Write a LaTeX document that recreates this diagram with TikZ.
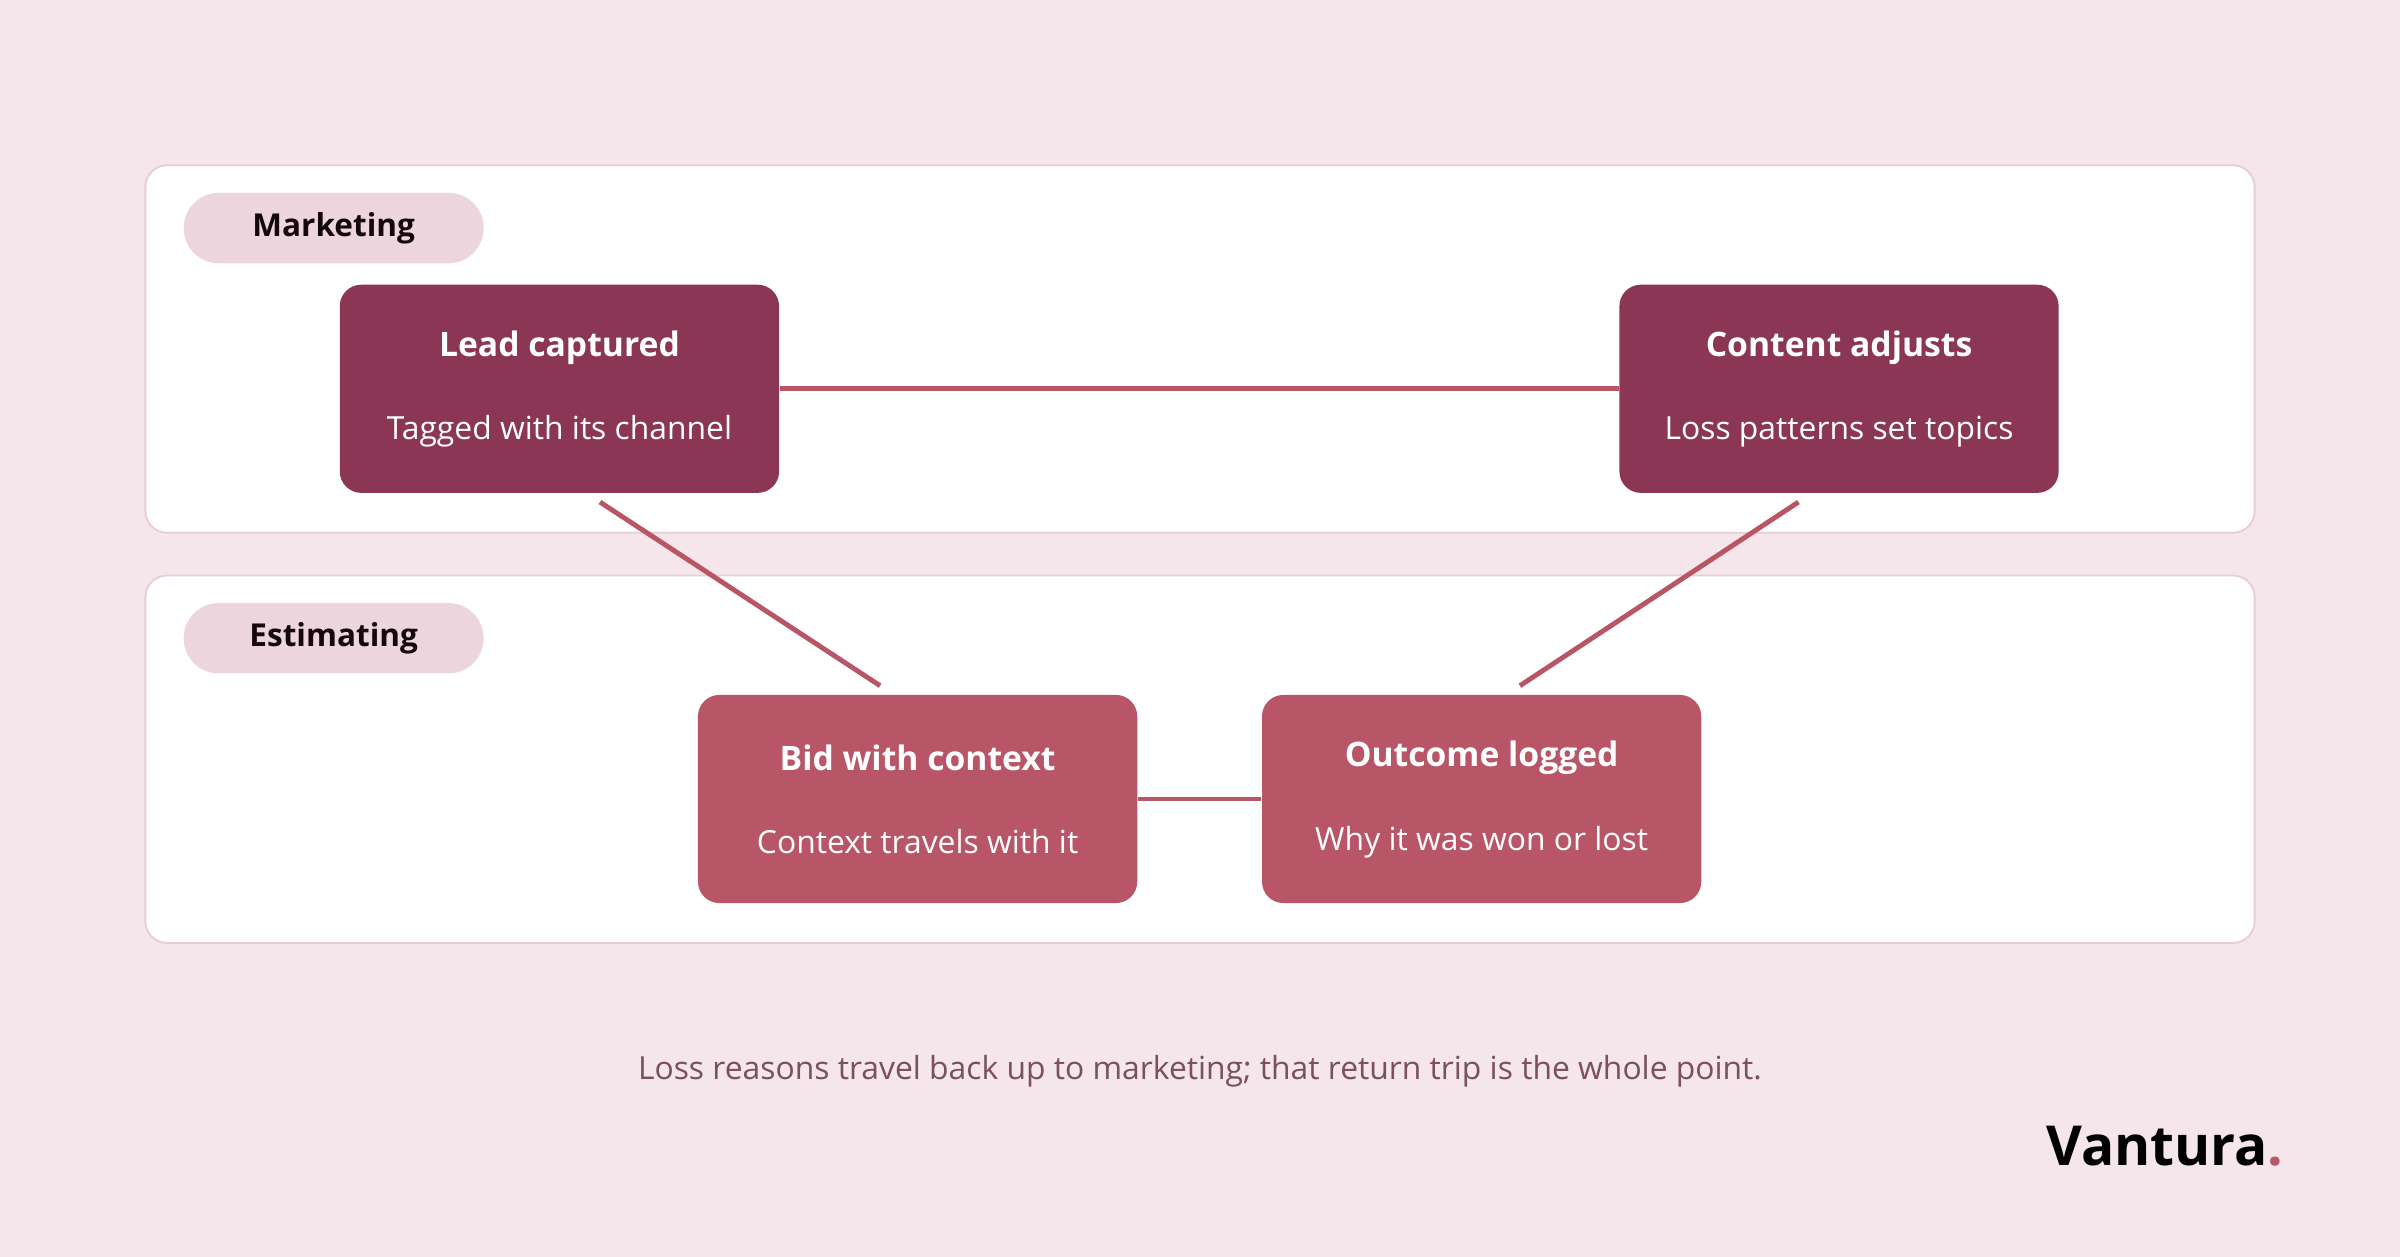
\documentclass[tikz,border=0pt]{standalone}
\usepackage{fontspec}
\setmainfont{Open Sans}
\begin{document}
\definecolor{bg}{HTML}{F4E6EA}
\definecolor{lanebd}{HTML}{E8CDD5}
\definecolor{pill}{HTML}{EDD5DD}
\definecolor{dark}{HTML}{8B3654}
\definecolor{mid}{HTML}{B85668}
\definecolor{cap}{HTML}{7A5060}
\begin{tikzpicture}[x=0.5pt,y=-0.5pt,
 lane/.style={draw=lanebd,fill=white,line width=0.6pt,rounded corners=7pt},
 pillst/.style={fill=pill,rounded corners=11.5pt,minimum width=98pt,minimum height=23pt,text height=8pt,text depth=2.5pt,font=\fontsize{10.3}{12}\selectfont\bfseries,text=black!85!dark},
 box/.style={rounded corners=7pt,minimum width=143.5pt,minimum height=68pt},
 ttl/.style={text=white,font=\fontsize{11}{13}\selectfont\bfseries},
 sub/.style={text=white,font=\fontsize{10.4}{12}\selectfont},
 conn/.style={draw=mid,line width=1.6pt}]
\fill[bg] (0,0) rectangle (1568,821);
\draw[lane] (95,108) rectangle (1473,348);
\draw[lane] (95,376) rectangle (1473,616);
\node[pillst] (pm) at (218,149) {Marketing};
\node[pillst] (pe) at (218,417) {Estimating};
\node[box,fill=dark] (lead) at (365.5,254) {};
\node[box,fill=dark] (cont) at (1201.5,254) {};
\node[box,fill=mid] (bid) at (599.5,522) {};
\node[box,fill=mid] (out) at (968,522) {};
\node[ttl] (t1) at (365.5,227) {Lead captured};
\node[sub] (s1) at (365.5,282) {Tagged with its channel};
\node[ttl] (t2) at (1201.5,227) {Content adjusts};
\node[sub] (s2) at (1201.5,282) {Loss patterns set topics};
\node[ttl] (t3) at (599.5,495) {Bid with context};
\node[sub] (s3) at (599.5,550) {Context travels with it};
\node[ttl] (t4) at (968,495) {Outcome logged};
\node[sub] (s4) at (968,550) {Why it was won or lost};
\coordinate (a1) at (392,328); \coordinate (a2) at (575,448);
\coordinate (b1) at (1175,328); \coordinate (b2) at (993,448);
\draw[conn] (lead.east) -- (cont.west);
\draw[conn] (bid.east) -- (out.west);
\draw[conn] (a1) -- (a2);
\draw[conn] (b1) -- (b2);
\node[text=cap,font=\fontsize{10.4}{12}\selectfont] (capt) at (784,700) {Loss reasons travel back up to marketing; that return trip is the whole point.};
\node[anchor=east,font=\fontsize{18}{22}\selectfont\bfseries,text=black] (logo) at (1499,749) {Vantura\textcolor{mid}{.}};
\end{tikzpicture}
\end{document}
